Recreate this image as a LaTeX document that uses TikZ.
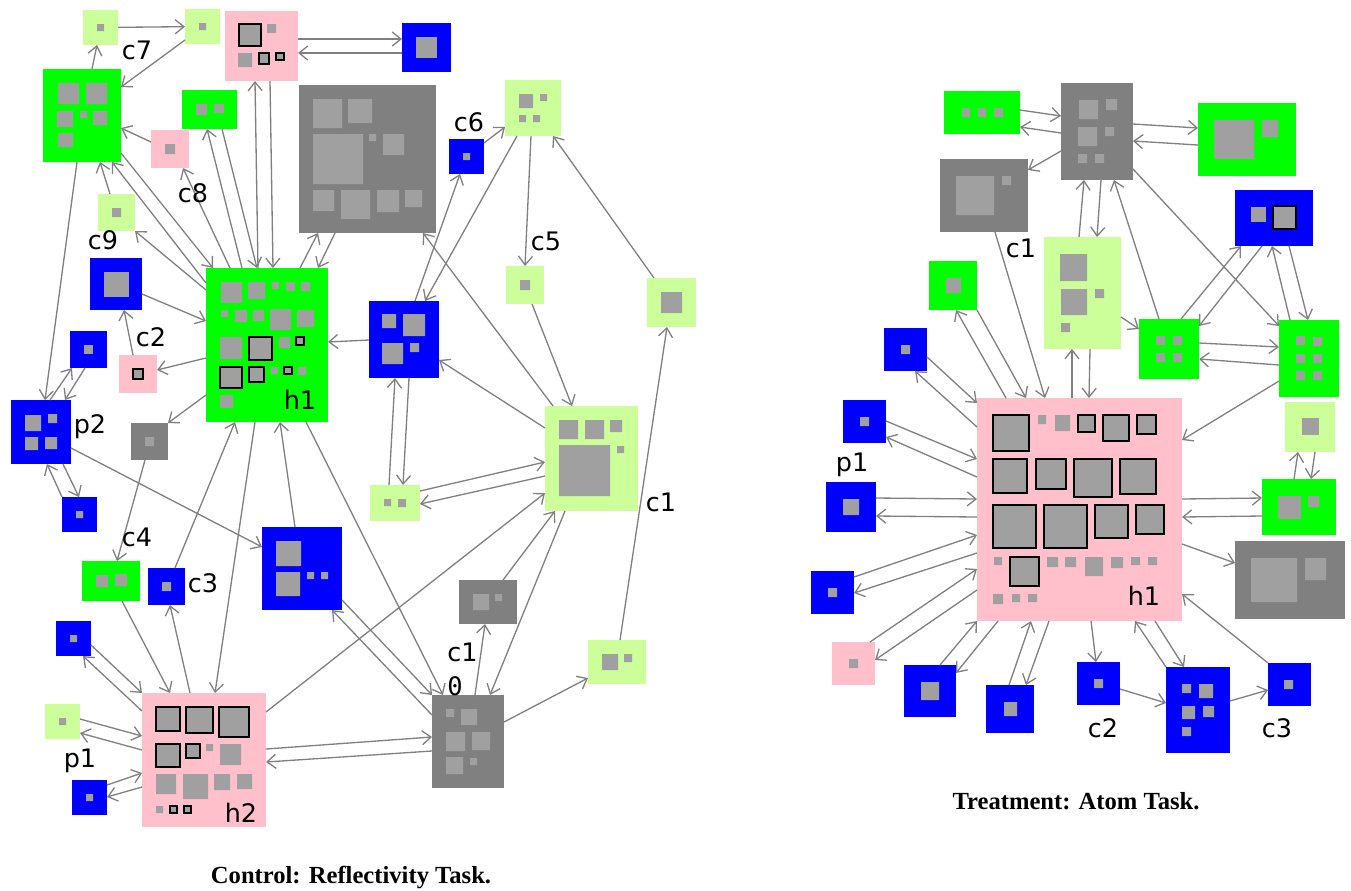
\documentclass[tikz,border=0pt]{standalone}
\usepackage{fontspec}
\usetikzlibrary{arrows.meta,fit}
\newfontfamily\lblfont{DejaVu Sans}
\newfontfamily\zerofont{DejaVu Sans Mono}
\newfontfamily\capfont{Liberation Serif}
\definecolor{vgreen}{RGB}{0,255,0}
\definecolor{lgreen}{RGB}{204,255,153}
\definecolor{vblue}{RGB}{0,0,255}
\definecolor{vpink}{RGB}{255,192,203}
\definecolor{vgray}{RGB}{128,128,128}
\definecolor{sqgray}{RGB}{160,160,160}
\definecolor{arrgray}{RGB}{128,128,128}
\begin{document}
\begin{tikzpicture}[x=0.02cm,y=-0.02cm,
  cell/.style={inner sep=0pt,outer sep=0pt,fit={#1}},
  grn/.style={cell={#1},fill=vgreen},
  lgn/.style={cell={#1},fill=lgreen},
  blu/.style={cell={#1},fill=vblue},
  pnk/.style={cell={#1},fill=vpink},
  gry/.style={cell={#1},fill=vgray},
  sq/.style={fill=sqgray},
  osq/.style={fill=sqgray,draw=black,line width=0.6pt},
  arr/.style={draw=arrgray,line width=0.75pt,-{Straight Barb[length=5pt,width=8pt]}},
  lbl/.style={inner sep=0pt,font=\lblfont\fontsize{14.5}{15}\selectfont},
  captxt/.style={inner sep=0pt,font=\capfont\bfseries\fontsize{14}{16}\selectfont}]
\useasboundingbox (0,0) rectangle (1351,890);

% control
\node[lgn={(83,10) (118,45)}] (la1) {};
\node[lgn={(185,9) (220,44)}] (la2) {};
\node[pnk={(225,11) (298,81)}] (lp1) {};
\node[blu={(402,23) (451,72)}] (lb1) {};
\node[grn={(43,69) (121,162)}] (lg1) {};
\node[grn={(182,90) (237,129)}] (lg2) {};
\node[pnk={(151,130) (189,168)}] (lp2) {};
\node[lgn={(98,194) (135,231)}] (la3) {};
\node[gry={(299,85) (436,233)}] (lgray) {};
\node[blu={(90,258) (142,310)}] (lb2) {};
\node[grn={(206,268) (328,422)}] (lh1) {};
\node[blu={(369,301) (439,378)}] (lb3) {};
\node[blu={(70,331) (107,368)}] (lb4) {};
\node[pnk={(119,355) (157,393)}] (lp3) {};
\node[blu={(11,400) (71,464)}] (lb5) {};
\node[gry={(131,423) (168,460)}] (lgs) {};
\node[blu={(62,497) (97,532)}] (lb6) {};
\node[lgn={(370,485) (420,521)}] (la4) {};
\node[grn={(82,561) (140,601)}] (lg3) {};
\node[blu={(148,568) (185,605)}] (lb7) {};
\node[blu={(262,527) (342,610)}] (lb8) {};
\node[blu={(56,621) (91,656)}] (lb9) {};
\node[lgn={(45,704) (80,739)}] (la5) {};
\node[blu={(72,780) (107,815)}] (lb10) {};
\node[pnk={(142,693) (266,827)}] (lh2) {};
\node[gry={(432,695) (504,788)}] (lg10) {};
\node[gry={(459,580) (517,624)}] (lg11) {};
\node[lgn={(588,640) (646,684)}] (la7) {};
\node[lgn={(647,278) (696,327)}] (la8) {};
\node[lgn={(505,80) (561,136)}] (la9) {};
\node[blu={(449,139) (484,174)}] (lb11) {};
\node[lgn={(506,266) (544,304)}] (la10) {};
\node[lgn={(545,406) (638,511)}] (la6) {};

\fill[sq] (97,24) rectangle (104,31) (199,23) rectangle (206,30);
\draw[osq] (239,24) rectangle (261,46) (259,53) rectangle (269,64) (276,53) rectangle (284,60);
\fill[sq] (267,24) rectangle (276,33) (238,53) rectangle (252,67);
\fill[sq] (416,37) rectangle (437,58);
\fill[sq] (58,83) rectangle (79,104) (86,83) rectangle (107,104) (57,111) rectangle (73,127)
  (80,111) rectangle (87,118) (93,111) rectangle (107,125) (58,133) rectangle (73,147);
\fill[sq] (196,104) rectangle (207,115) (214,104) rectangle (224,113);
\fill[sq] (165,144) rectangle (175,154) (112,208) rectangle (121,217);
\fill[sq] (313,99) rectangle (342,128) (348,99) rectangle (372,123) (313,134) rectangle (363,184)
  (369,134) rectangle (376,141) (383,134) rectangle (404,155) (313,190) rectangle (334,211)
  (341,190) rectangle (370,219) (377,190) rectangle (399,212) (405,190) rectangle (422,207);
\fill[sq] (104,272) rectangle (129,297);
\fill[sq] (221,282) rectangle (242,303) (248,282) rectangle (265,299) (272,282) rectangle (279,289)
  (286,282) rectangle (295,291) (301,282) rectangle (310,291) (221,310) rectangle (228,317)
  (235,310) rectangle (247,322) (253,310) rectangle (264,321) (270,309) rectangle (291,330)
  (297,310) rectangle (314,327) (220,337) rectangle (242,359) (279,337) rectangle (290,348)
  (271,367) rectangle (278,374) (298,367) rectangle (306,375) (220,395) rectangle (233,408);
\draw[osq] (249,337) rectangle (272,360) (296,337) rectangle (304,345) (220,367) rectangle (242,388)
  (249,367) rectangle (264,382) (284,367) rectangle (292,374);
\fill[sq] (382,314) rectangle (396,328) (403,314) rectangle (425,336) (382,343) rectangle (403,364)
  (410,343) rectangle (419,352);
\fill[sq] (84,345) rectangle (93,354);
\draw[osq] (133,369) rectangle (143,379);
\fill[sq] (25,415) rectangle (41,431) (48,414) rectangle (57,423) (25,437) rectangle (38,450)
  (45,437) rectangle (57,449);
\fill[sq] (145,437) rectangle (154,446) (76,511) rectangle (83,518);
\fill[sq] (384,499) rectangle (391,506) (398,499) rectangle (406,507);
\fill[sq] (96,575) rectangle (108,587) (115,574) rectangle (127,586) (162,582) rectangle (171,591);
\fill[sq] (276,541) rectangle (301,566) (276,572) rectangle (300,596) (307,572) rectangle (314,579)
  (321,572) rectangle (328,579);
\fill[sq] (70,635) rectangle (77,642) (59,718) rectangle (66,725) (86,794) rectangle (93,801);
\draw[osq] (156,707) rectangle (180,731) (186,707) rectangle (213,733) (219,707) rectangle (249,737)
  (156,744) rectangle (180,767) (186,744) rectangle (200,758) (170,806) rectangle (177,813)
  (184,806) rectangle (191,813);
\fill[sq] (206,744) rectangle (213,751) (220,744) rectangle (241,765) (156,774) rectangle (176,794)
  (183,774) rectangle (208,799) (214,774) rectangle (230,790) (237,774) rectangle (252,789)
  (156,806) rectangle (163,813);
\fill[sq] (446,709) rectangle (454,717) (461,709) rectangle (477,725) (446,732) rectangle (465,751)
  (472,732) rectangle (490,750) (446,757) rectangle (463,774) (470,758) rectangle (477,765);
\fill[sq] (473,594) rectangle (489,610) (495,594) rectangle (502,601);
\fill[sq] (602,654) rectangle (618,670) (624,654) rectangle (632,662) (661,292) rectangle (682,313);
\fill[sq] (519,94) rectangle (533,108) (540,94) rectangle (547,101) (519,115) rectangle (526,122)
  (533,115) rectangle (540,122);
\fill[sq] (463,153) rectangle (470,160) (520,280) rectangle (530,290);
\fill[sq] (559,420) rectangle (578,439) (585,420) rectangle (604,439) (610,420) rectangle (622,432)
  (559,445) rectangle (610,496) (617,446) rectangle (624,453);

\draw[arr] (la1) -- (la2);
\draw[arr] (lg1.north -| 92,0) -- (la1.south -| 97,0);
\draw[arr] (la2.west |- 0,40) -- (lg1.east |- 0,87);
\draw[arr] (lp1.east |- 0,39) -- (lb1.west |- 0,39);
\draw[arr] (lb1.west |- 0,53) -- (lp1.east |- 0,53);
\draw[arr] (lh1.north -| 258,0) -- (lp1.south -| 255,0);
\draw[arr] (lp1.south -| 270,0) -- (lh1.north -| 273,0);
\draw[arr] (lh1.north -| 242,0) -- (lg2.south -| 207,0);
\draw[arr] (lg2.south -| 222,0) -- (lh1.north -| 257,0);
\draw[arr] (lh1.north -| 230,0) -- (lp2.south -| 183,0);
\draw[arr] (lp2.west |- 0,142) -- (lg1.east |- 0,128);
\draw[arr] (lg1.east |- 0,153) -- (lh1.north -| 213,0);
\draw[arr] (lh1.west |- 0,283) -- (lg1.south -| 112,0);
\draw[arr] (la3.north -| 110,0) -- (lg1.south -| 100,0);
\draw[arr] (lh1.west |- 0,290) -- (la3.south east);
\draw[arr] (lh1.north -| 300,0) -- (lgray.south -| 318,0);
\draw[arr] (lgray.south -| 335,0) -- (lh1.north -| 318,0);
\draw[arr] (lg1.south -| 77,0) -- (lb5.north -| 45,0);
\draw[arr] (lb5.north -| 50,0) -- (lb4.south -| 72,0);
\draw[arr] (lb4.south -| 85,0) -- (lb5.north -| 65,0);
\draw[arr] (lb5.south -| 63,0) -- (lb6.north -| 79,0);
\draw[arr] (lb6.north west) -- (lb5.south -| 47,0);
\draw[arr] (lb5.east |- 0,448) -- (lb8.west |- 0,547);
\draw[arr] (lp3.north -| 133,0) -- (lb2.south -| 124,0);
\draw[arr] (lh1.west |- 0,358) -- (lp3.east |- 0,370);
\draw[arr] (lb2.east |- 0,294) -- (lh1.west |- 0,321);
\draw[arr] (lb3.west |- 0,340) -- (lh1.east |- 0,342);
\draw[arr] (lh1.west |- 0,395) -- (lgs.north east);
\draw[arr] (lgs.south -| 145,0) -- (lg3.north -| 117,0);
\draw[arr] (lb3.south -| 409,0) -- (la4.north -| 403,0);
\draw[arr] (la4.north -| 389,0) -- (lb3.south -| 395,0);
\draw[arr] (la6.west |- 0,428) -- (lb3.east |- 0,360);
\draw[arr] (la9.south -| 517,0) -- (lb3.north -| 425,0);
\draw[arr] (lb3.north -| 415,0) -- (lb11.south -| 460,0);
\draw[arr] (lb11.east |- 0,143) -- (la9.west |- 0,127);
\draw[arr] (la9.south -| 531,0) -- (la10.north -| 525,0);
\draw[arr] (la10.south -| 532,0) -- (la6.north -| 572,0);
\draw[arr] (la8.north -| 654,0) -- (la9.south -| 553,0);
\draw[arr] (la7.north -| 620,0) -- (la8.south -| 667,0);
\draw[arr] (lg10.east |- 0,722) -- (la7.west |- 0,678);
\draw[arr] (la6.north -| 553,0) -- (lgray.south -| 423,0);
\draw[arr] (la4.east |- 0,491) -- (la6.west |- 0,462);
\draw[arr] (la6.west |- 0,476) -- (la4.east |- 0,504);
\draw[arr] (lh2.east |- 0,712) -- (la6.west |- 0,493);
\draw[arr] (lg11.north -| 503,0) -- (la6.south -| 555,0);
\draw[arr] (la6.south -| 565,0) -- (lg10.north -| 490,0);
\draw[arr] (lg10.north -| 475,0) -- (lg11.south -| 485,0);
\draw[arr] (lh1.south -| 306,0) -- (lg10.north -| 443,0);
\draw[arr] (lb8.east |- 0,600) -- (lg10.north west);
\draw[arr] (lg10.west |- 0,715) -- (lb8.south -| 332,0);
\draw[arr] (lh2.east |- 0,749) -- (lg10.west |- 0,737);
\draw[arr] (lg10.west |- 0,751) -- (lh2.east |- 0,762);
\draw[arr] (lb8.north -| 295,0) -- (lh1.south -| 280,0);
\draw[arr] (lh1.south -| 255,0) -- (lh2.north -| 215,0);
\draw[arr] (lb7.north -| 175,0) -- (lh1.south -| 235,0);
\draw[arr] (lh2.north -| 190,0) -- (lb7.south -| 170,0);
\draw[arr] (lg3.south -| 122,0) -- (lh2.north -| 170,0);
\draw[arr] (lb9.east |- 0,645) -- (lh2.north west);
\draw[arr] (lh2.west |- 0,711) -- (lb9.south -| 83,0);
\draw[arr] (la5.east |- 0,719) -- (lh2.west |- 0,736);
\draw[arr] (lh2.west |- 0,750) -- (la5.east |- 0,733);
\draw[arr] (lb10.east |- 0,785) -- (lh2.west |- 0,773);
\draw[arr] (lh2.west |- 0,787) -- (lb10.east |- 0,797);

\node[lbl] (ltc7) at (137,50) {c7};
\node[lbl] (ltc8) at (193,193) {c8};
\node[lbl] (ltc9) at (103,240) {c9};
\node[lbl] (ltc2) at (151,337) {c2};
\node[lbl] (lth1) at (300,400) {h1};
\node[lbl] (ltp2) at (90,427) {p2};
\node[lbl] (ltc4) at (137,537) {c4};
\node[lbl] (ltc3) at (203,583) {c3};
\node[lbl] (ltp1) at (80,761) {p1};
\node[lbl] (lth2) at (241,813) {h2};
\node[lbl,anchor=west] (ltc10) at (447,652) {c1};
\node[lbl,anchor=west,font=\zerofont\fontsize{14.5}{15}\selectfont] (ltzero) at (447,686) {0};
\node[lbl] (ltc6) at (469,122) {c6};
\node[lbl] (ltc5) at (546,241) {c5};
\node[lbl] (ltc1) at (661,502) {c1};
\node[captxt] (lcap) at (351,877) {Control: Reflectivity Task.};

% treatment
\node[grn={(944,91) (1020,134)}] (rg1) {};
\node[gry={(1061,83) (1133,180)}] (rgray1) {};
\node[grn={(1198,103) (1296,176)}] (rg2) {};
\node[gry={(940,159) (1028,232)}] (rgray2) {};
\node[lgn={(1044,237) (1121,349)}] (ra1) {};
\node[blu={(1235,190) (1313,246)}] (rb1) {};
\node[grn={(929,261) (977,310)}] (rg3) {};
\node[blu={(884,328) (927,371)}] (rb2) {};
\node[grn={(1139,319) (1199,379)}] (rg4) {};
\node[grn={(1279,320) (1339,397)}] (rg5) {};
\node[pnk={(977,398) (1182,621)}] (rh1) {};
\node[blu={(843,400) (886,443)}] (rb3) {};
\node[blu={(826,482) (876,532)}] (rb4) {};
\node[blu={(811,571) (854,614)}] (rb5) {};
\node[pnk={(832,642) (875,685)}] (rp1) {};
\node[blu={(904,665) (956,717)}] (rb6) {};
\node[blu={(986,685) (1034,733)}] (rb7) {};
\node[blu={(1077,662) (1120,705)}] (rb8) {};
\node[blu={(1166,667) (1230,753)}] (rb9) {};
\node[blu={(1268,663) (1311,706)}] (rb10) {};
\node[lgn={(1285,402) (1335,452)}] (ra2) {};
\node[grn={(1262,479) (1336,535)}] (rg6) {};
\node[gry={(1235,541) (1345,619)}] (rgray3) {};

\fill[sq] (962,108) rectangle (970,117) (978,108) rectangle (986,117) (994,108) rectangle (1003,117);
\fill[sq] (1079,100) rectangle (1098,119) (1106,99) rectangle (1117,110) (1078,127) rectangle (1097,146)
  (1105,127) rectangle (1114,136) (1078,154) rectangle (1087,163) (1095,154) rectangle (1104,163);
\fill[sq] (1214,120) rectangle (1254,159) (1262,120) rectangle (1278,137);
\fill[sq] (956,176) rectangle (994,215) (1002,176) rectangle (1011,185);
\fill[sq] (1060,254) rectangle (1087,281) (1061,289) rectangle (1087,315) (1095,289) rectangle (1104,298)
  (1061,323) rectangle (1070,332);
\fill[sq] (1251,207) rectangle (1266,222);
\draw[osq] (1273,206) rectangle (1296,229);
\fill[sq] (946,278) rectangle (961,293) (901,345) rectangle (910,354);
\fill[sq] (1156,336) rectangle (1165,345) (1173,336) rectangle (1182,345) (1156,353) rectangle (1165,362)
  (1173,353) rectangle (1182,362);
\fill[sq] (1296,336) rectangle (1305,345) (1313,337) rectangle (1322,346) (1296,354) rectangle (1305,363)
  (1313,354) rectangle (1322,363) (1296,371) rectangle (1305,380) (1313,371) rectangle (1322,380);
\draw[osq] (993,415) rectangle (1029,451) (1078,415) rectangle (1095,432) (1103,415) rectangle (1129,441)
  (1137,415) rectangle (1156,434) (993,459) rectangle (1027,493) (1036,459) rectangle (1066,489)
  (1074,459) rectangle (1112,497) (1120,459) rectangle (1156,494) (993,505) rectangle (1036,548)
  (1044,505) rectangle (1087,548) (1095,505) rectangle (1128,538) (1136,505) rectangle (1164,534)
  (1010,557) rectangle (1039,586);
\fill[sq] (1038,415) rectangle (1046,424) (1055,415) rectangle (1070,431) (994,557) rectangle (1002,565)
  (1047,557) rectangle (1058,567) (1065,557) rectangle (1076,567) (1085,557) rectangle (1103,576)
  (1111,557) rectangle (1123,568) (1131,557) rectangle (1140,565) (1148,557) rectangle (1157,565)
  (993,594) rectangle (1003,604) (1012,594) rectangle (1020,602) (1028,594) rectangle (1037,602);
\fill[sq] (860,417) rectangle (869,426) (843,499) rectangle (859,515) (828,588) rectangle (837,597);
\fill[sq] (849,659) rectangle (858,668) (921,682) rectangle (939,700) (1004,702) rectangle (1017,716);
\fill[sq] (1094,679) rectangle (1103,688) (1284,680) rectangle (1293,689);
\fill[sq] (1182,684) rectangle (1191,693) (1199,684) rectangle (1213,698) (1182,706) rectangle (1195,719)
  (1203,706) rectangle (1214,717) (1182,727) rectangle (1191,736);
\fill[sq] (1302,418) rectangle (1319,435);
\fill[sq] (1278,496) rectangle (1301,519) (1308,496) rectangle (1319,507);
\fill[sq] (1251,558) rectangle (1297,602) (1305,558) rectangle (1326,580);

\draw[arr] (rg1.east |- 0,110) -- (rgray1.west |- 0,116);
\draw[arr] (rgray1.west |- 0,133) -- (rg1.east |- 0,127);
\draw[arr] (rgray1.east |- 0,124) -- (rg2.west |- 0,128);
\draw[arr] (rg2.west |- 0,145) -- (rgray1.east |- 0,141);
\draw[arr] (rgray1.west |- 0,151) -- (rgray2.east |- 0,170);
\draw[arr] (ra1.north -| 1079,0) -- (rgray1.south -| 1084,0);
\draw[arr] (rgray1.south -| 1101,0) -- (ra1.north -| 1097,0);
\draw[arr] (rg4.north -| 1159,0) -- (rgray1.south -| 1114,0);
\draw[arr] (rgray1.east |- 0,169) -- (rg5.west |- 0,326);
\draw[arr] (ra1.east |- 0,317) -- (rg4.west |- 0,329);
\draw[arr] (rg4.north -| 1181,0) -- (rb1.south -| 1241,0);
\draw[arr] (rb1.south -| 1262,0) -- (rg4.east |- 0,326);
\draw[arr] (rg5.north -| 1290,0) -- (rb1.south -| 1272,0);
\draw[arr] (rb1.south -| 1289,0) -- (rg5.north -| 1308,0);
\draw[arr] (rg4.east |- 0,343) -- (rg5.west |- 0,347);
\draw[arr] (rg5.west |- 0,365) -- (rg4.east |- 0,359);
\draw[arr] (rgray2.south -| 995,0) -- (rh1.north -| 1045,0);
\draw[arr] (rg3.south east) -- (rh1.north -| 1026,0);
\draw[arr] (rh1.north -| 1006,0) -- (rg3.south -| 956,0);
\draw[arr] (rh1.north -| 1072,0) -- (ra1.south -| 1072,0);
\draw[arr] (ra1.south -| 1090,0) -- (rh1.north -| 1089,0);
\draw[arr] (rb2.east |- 0,357) -- (rh1.west |- 0,403);
\draw[arr] (rh1.west |- 0,427) -- (rb2.south -| 915,0);
\draw[arr] (rg5.west |- 0,381) -- (rh1.east |- 0,440);
\draw[arr] (rb3.east |- 0,421) -- (rh1.west |- 0,459);
\draw[arr] (rh1.west |- 0,477) -- (rb3.east |- 0,437);
\draw[arr] (rb4.east |- 0,498) -- (rh1.west |- 0,499);
\draw[arr] (rh1.west |- 0,517) -- (rb4.east |- 0,516);
\draw[arr] (rb5.east |- 0,577) -- (rh1.west |- 0,535);
\draw[arr] (rh1.west |- 0,553) -- (rb5.east |- 0,593);
\draw[arr] (rp1.north -| 870,0) -- (rh1.west |- 0,569);
\draw[arr] (rh1.west |- 0,590) -- (rp1.east |- 0,660);
\draw[arr] (rb6.north -| 940,0) -- (rh1.south west);
\draw[arr] (rh1.south -| 998,0) -- (rb6.east |- 0,673);
\draw[arr] (rb7.north -| 1009,0) -- (rh1.south -| 1031,0);
\draw[arr] (rh1.south -| 1049,0) -- (rb7.north -| 1026,0);
\draw[arr] (rh1.south -| 1091,0) -- (rb8.north -| 1096,0);
\draw[arr] (rb8.east |- 0,689) -- (rb9.west |- 0,703);
\draw[arr] (rb9.north west) -- (rh1.south -| 1135,0);
\draw[arr] (rh1.south -| 1155,0) -- (rb9.north -| 1184,0);
\draw[arr] (rb9.east |- 0,701) -- (rb10.west |- 0,690);
\draw[arr] (rb10.north west) -- (rh1.east |- 0,594);
\draw[arr] (rh1.east |- 0,499) -- (rg6.west |- 0,498);
\draw[arr] (rg6.west |- 0,516) -- (rh1.east |- 0,517);
\draw[arr] (rh1.east |- 0,544) -- (rgray3.west |- 0,563);
\draw[arr] (rg6.north -| 1294,0) -- (ra2.south -| 1298,0);
\draw[arr] (ra2.south -| 1315,0) -- (rg6.north -| 1311,0);

\node[lbl] (rtc1) at (1021,248) {c1};
\node[lbl] (rtp1) at (852,465) {p1};
\node[lbl] (rth1) at (1144,596) {h1};
\node[lbl] (rtc2) at (1103,728) {c2};
\node[lbl] (rtc3) at (1277,728) {c3};
\node[captxt] (rcap) at (1076,801) {Treatment: Atom Task.};
\end{tikzpicture}
\end{document}
